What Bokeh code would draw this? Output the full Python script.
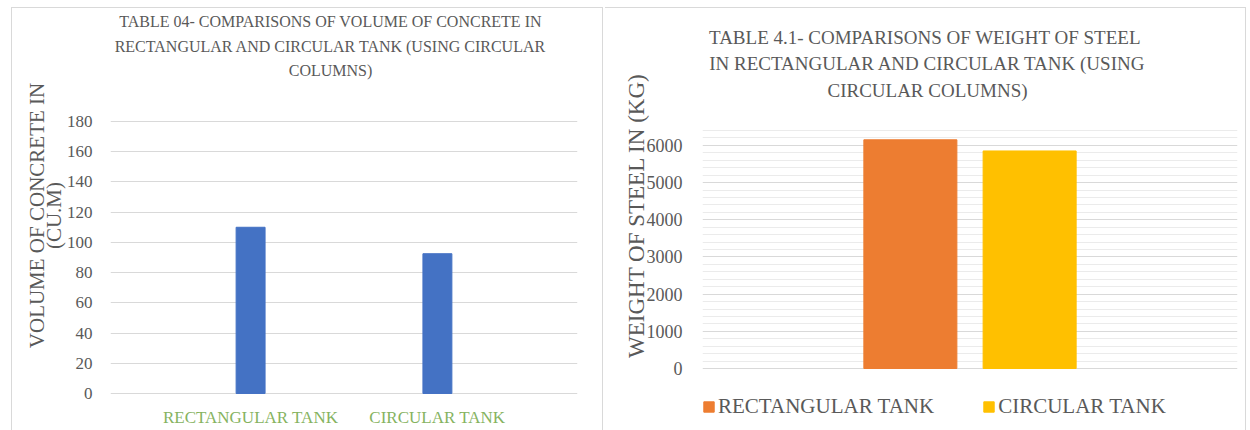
import math
from bokeh.plotting import figure
from bokeh.layouts import row
from bokeh.models import (FactorRange, Range1d, Label, FixedTicker, ColumnDataSource,
                          Legend, LegendItem, LinearAxis)
from bokeh.core.properties import value
from bokeh.embed import file_html
from bokeh.resources import INLINE

# ---------------- data ----------------
categories = ["RECTANGULAR TANK", "CIRCULAR TANK"]
concrete_volume = [110, 92.5]          # cu.m
steel_weight = [6150, 5850]            # kg
steel_colors = ["#ED7D31", "#FFC000"]
concrete_ticks = [0, 20, 40, 60, 80, 100, 120, 140, 160, 180]
steel_major = [0, 1000, 2000, 3000, 4000, 5000, 6000]
steel_minor = [200, 400, 600, 800, 1200, 1400, 1600, 1800, 2200, 2400, 2600, 2800,
               3200, 3400, 3600, 3800, 4200, 4400, 4600, 4800, 5200, 5400, 5600,
               5800, 6200, 6400]

left_title = ["TABLE 04- COMPARISONS OF VOLUME OF CONCRETE IN",
              "RECTANGULAR AND CIRCULAR TANK (USING CIRCULAR",
              "COLUMNS)"]
left_ylabel = ["VOLUME OF CONCRETE IN", "(CU.M)"]
right_title = ["TABLE 4.1- COMPARISONS  OF WEIGHT OF STEEL",
               "IN RECTANGULAR AND CIRCULAR TANK (USING",
               "CIRCULAR COLUMNS)"]
right_ylabel = "WEIGHT OF STEEL IN (KG)"

FONT = "Liberation Serif"
FONT_Q = "'Liberation Serif', serif"
GRAY = "#595959"
GREEN = "#86B35F"
GRID = "#D9D9D9"


def panel_bg(lines):
    parts = [f"linear-gradient({GRID},{GRID}) {x}px {y}px / {w}px {h}px no-repeat"
             for (x, y, w, h) in lines]
    return ", ".join(parts) + ", #ffffff"


def style_label(ax, size, standoff):
    ax.axis_label_text_font = FONT
    ax.axis_label_text_font_size = size
    ax.axis_label_text_font_style = "normal"
    ax.axis_label_text_color = GRAY
    ax.axis_label_standoff = standoff


def title_lines(p, lines, x, ys, size):
    for txt, yy in zip(lines, ys):
        p.add_layout(Label(x=x, y=yy, x_units="screen", y_units="screen",
                           text=txt, text_align="center", text_baseline="middle",
                           text_font=FONT_Q, text_font_size=size, text_color=GRAY))


# ---------------- left chart (frame spans full height) ----------------
p1 = figure(width=605, height=430, title=None,
            x_range=FactorRange(*categories, range_padding=0.25,
                                range_padding_units="absolute"),
            y_range=Range1d(-24.49, 260.07),
            output_backend="svg", toolbar_location=None,
            min_border_left=110, min_border_right=28,
            min_border_top=0, min_border_bottom=0)
p1.outline_line_color = None
p1.border_fill_color = None
p1.background_fill_color = None
p1.styles = {"background": panel_bg([(11, 7, 1, 423), (11, 7, 592, 1), (602, 7, 1, 423)])}
p1.vbar(x=categories, top=concrete_volume, width=0.155, color="#4472C4")
p1.text(x=categories, y=[0] * len(categories), text=categories, y_offset=24,
        text_align="center", text_baseline="middle", text_font=value(FONT),
        text_font_size="17px", text_color=GREEN)

p1.xaxis.visible = False
p1.xgrid.grid_line_color = None
p1.ygrid.grid_line_color = GRID
y1 = p1.yaxis[0]
y1.ticker = FixedTicker(ticks=concrete_ticks)
y1.axis_line_color = None
y1.major_tick_line_color = None
y1.minor_tick_line_color = None
y1.major_label_text_font = FONT
y1.major_label_text_font_size = "17px"
y1.major_label_text_color = GRAY
y1.major_label_standoff = 12
y1.axis_label = left_ylabel[1]
style_label(y1, "21px", -2)
outer = LinearAxis(ticker=FixedTicker(ticks=[]), axis_label=left_ylabel[0],
                   axis_line_color=None, major_tick_line_color=None,
                   minor_tick_line_color=None, major_tick_out=0,
                   major_label_standoff=0)
style_label(outer, "21px", -10)
p1.add_layout(outer, "left")

title_lines(p1, left_title, 220, [409, 384, 360], "16px")

# ---------------- right chart (frame spans full height) ----------------
src = ColumnDataSource(dict(cat=categories, w=steel_weight, c=steel_colors))
p2 = figure(width=645, height=430, title=None,
            x_range=FactorRange(*categories, range_padding=1.243,
                                range_padding_units="absolute"),
            y_range=Range1d(-1667.2, 9895.8),
            output_backend="svg", toolbar_location=None,
            min_border_left=97, min_border_right=13,
            min_border_top=0, min_border_bottom=0)
p2.outline_line_color = None
p2.border_fill_color = None
p2.background_fill_color = None
p2.styles = {"background": panel_bg([(0, 7, 640, 1), (640, 7, 1, 423)])}
r = p2.vbar(x="cat", top="w", width=0.78, color="c", source=src)

p2.xaxis.visible = False
p2.xgrid.grid_line_color = None
ya = p2.yaxis[0]
ya.ticker = FixedTicker(ticks=steel_major, minor_ticks=steel_minor)
p2.ygrid.grid_line_color = GRID
p2.ygrid.minor_grid_line_color = "#EBEBEB"
ya.axis_line_color = None
ya.major_tick_line_color = None
ya.minor_tick_line_color = None
ya.major_label_text_font = FONT
ya.major_label_text_font_size = "18px"
ya.major_label_text_color = GRAY
ya.major_label_standoff = 14
ya.axis_label = right_ylabel
style_label(ya, "23px", -5)

legend = Legend(items=[LegendItem(label=categories[i], renderers=[r], index=i)
                       for i in range(len(categories))],
                location=(0, 11), orientation="horizontal",
                glyph_width=13, glyph_height=13, label_standoff=3,
                spacing=48, padding=0, margin=0,
                label_text_font_size="21px",
                label_text_color=GRAY, label_height=21,
                border_line_color=None, background_fill_alpha=0)
try:
    legend.label_text_font = value(FONT)
except Exception:
    legend.label_text_font = FONT_Q
p2.add_layout(legend, "center")

title_lines(p2, right_title, 225, [393, 367, 340], "19px")

layout = row(p1, p2)
open("out.html", "w").write(file_html(layout, INLINE))
